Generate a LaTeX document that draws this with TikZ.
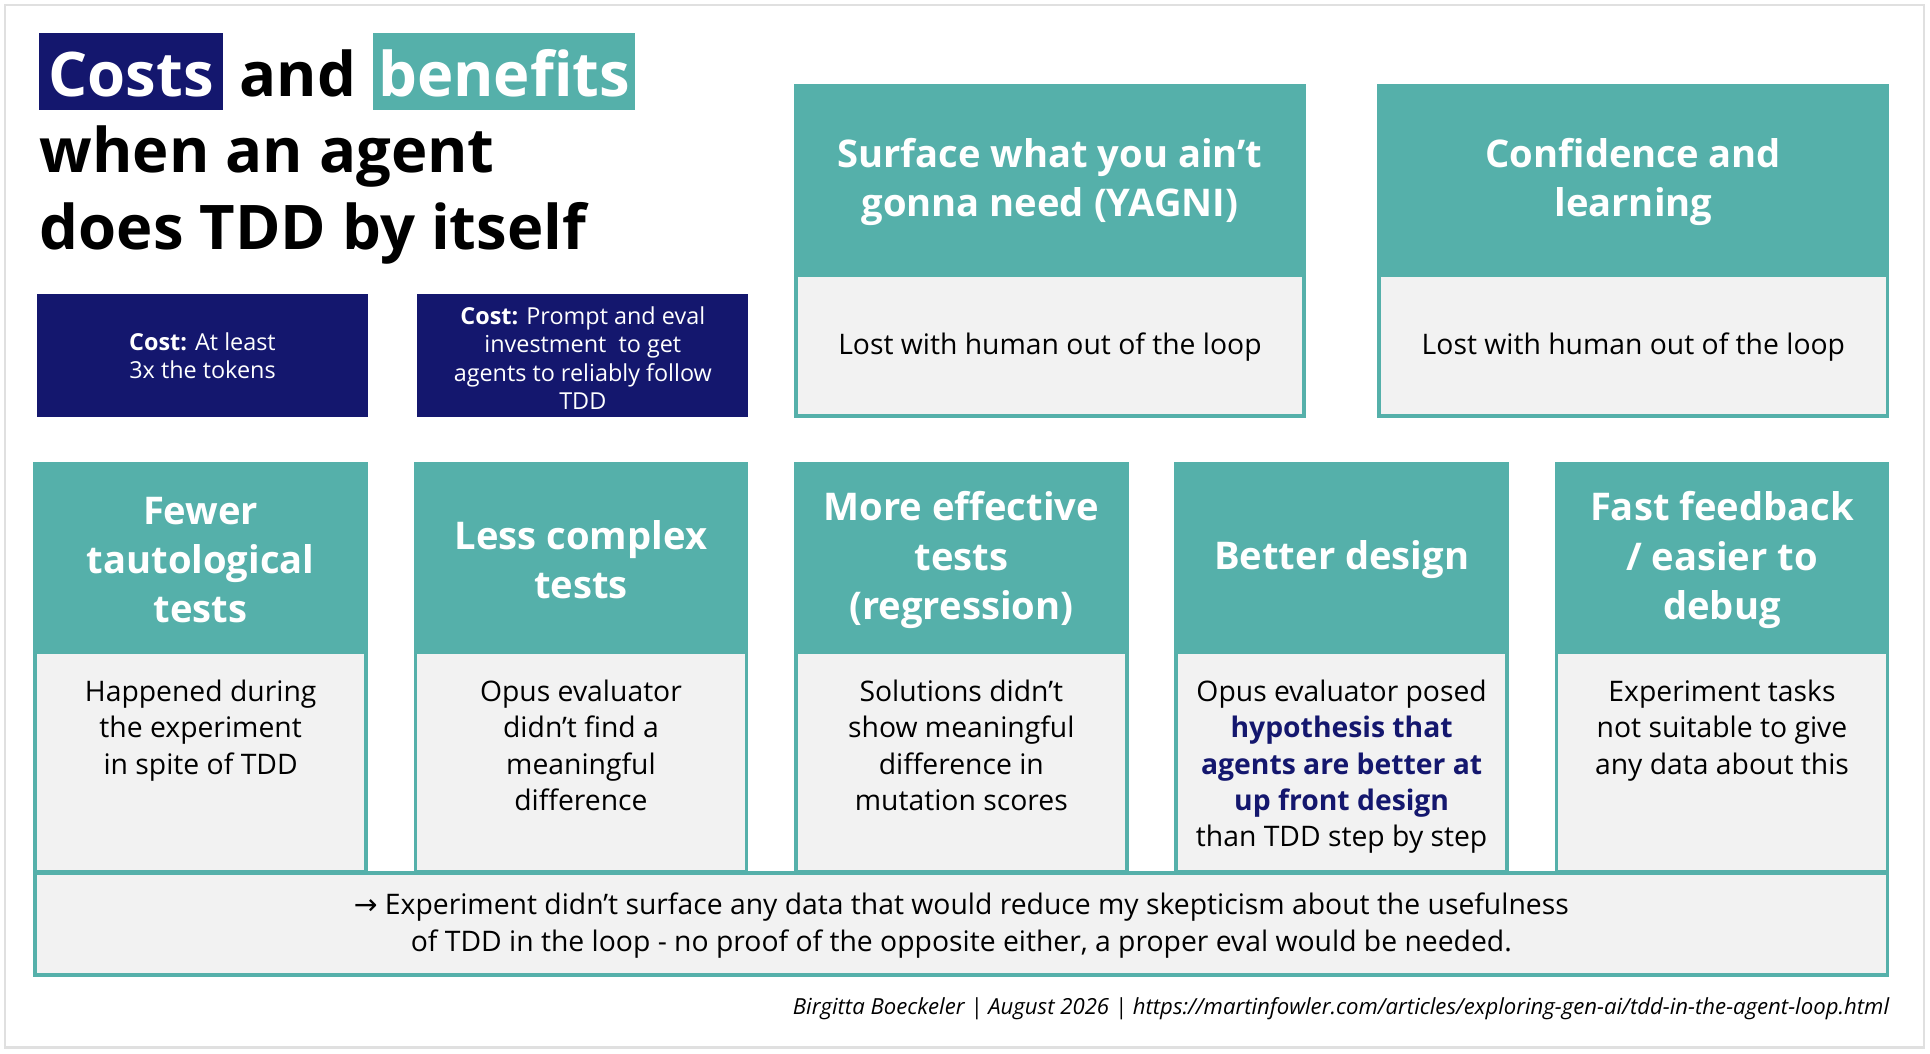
\documentclass[tikz,border=0pt]{standalone}
\usepackage{fontspec}
\setmainfont{Open Sans}
\newfontfamily\arrowfont{DejaVu Sans}
\definecolor{teal}{HTML}{55B0AA}
\definecolor{navy}{HTML}{14176E}
\definecolor{bodyg}{HTML}{F2F2F2}
\begin{document}
\begin{tikzpicture}[x=1pt,y=-1pt,
 hd/.style={text=white,font=\fontsize{31}{40}\selectfont\bfseries,align=center},
 bd/.style={font=\fontsize{23}{29.5}\selectfont,align=center,anchor=north},
 ttl/.style={font=\fontsize{50}{60}\selectfont\bfseries,inner sep=0,anchor=base west},
 cost/.style={text=white,font=\fontsize{19}{23}\selectfont,align=center}]
\useasboundingbox (0,0) rectangle (1568,856);
\draw[black!12,line width=2] (4,4) rectangle (1563,851);
% title
\fill[navy] (32,27) rectangle (181,89);
\fill[teal] (303,27) rectangle (516,89);
\node[ttl,text=white,anchor=base] (t1a) at (106.5,78) {Costs};
\node[ttl,anchor=base] (t1b) at (242,78) {and};
\node[ttl,text=white,anchor=base] (t1c) at (409.5,78) {benefits};
\node[ttl] (t2) at (32,140) {when an agent};
\node[ttl] (t3) at (32,203) {does TDD by itself};
% cost boxes
\fill[navy] (30,239) rectangle (299,339);
\node[cost] (c1) at (164.5,289) {\textbf{Cost:} At least\\3x the tokens};
\fill[navy] (339,239) rectangle (608,339);
\node[cost] (c2) at (473.5,291) {\textbf{Cost:} Prompt and eval\\investment\ \ to get\\agents to reliably follow\\TDD};
% top cards
\foreach \xa/\xb/\nm in {645/1061/A,1119/1535/B}{
 \fill[teal] (\xa,68) rectangle (\xb,225);
 \filldraw[fill=bodyg,draw=teal,line width=3] (\xa+1.5,225) -- (\xa+1.5,338) -- (\xb-1.5,338) -- (\xb-1.5,225);
}
\node[hd] (hA) at (853,148) {Surface what you ain’t\\gonna need (YAGNI)};
\node[bd,anchor=center] (bA) at (853,282) {Lost with human out of the loop};
\node[hd] (hB) at (1327,148) {Confidence and\\learning};
\node[bd,anchor=center] (bB) at (1327,282) {Lost with human out of the loop};
% bottom cards
\foreach \xa/\xb in {27/299,336/608,645/917,954/1226,1263/1535}{
 \fill[teal] (\xa,375) rectangle (\xb,531);
 \filldraw[fill=bodyg,draw=teal,line width=3] (\xa+1.5,531) -- (\xa+1.5,708) -- (\xb-1.5,708) -- (\xb-1.5,531);
}
\node[hd] (h1) at (163,455) {Fewer\\tautological\\tests};
\node[hd] (h2) at (472,455) {Less complex\\tests};
\node[hd] (h3) at (781,455) {More effective\\tests\\(regression)};
\node[hd] (h4) at (1090,455) {Better design};
\node[hd] (h5) at (1399,455) {Fast feedback\\/ easier to\\debug};
\node[bd] (b1) at (163,549) {Happened during\\the experiment\\in spite of TDD};
\node[bd] (b2) at (472,549) {Opus evaluator\\didn’t find a\\meaningful\\difference};
\node[bd] (b3) at (781,549) {Solutions didn’t\\show meaningful\\difference in\\mutation scores};
\node[bd] (b4) at (1090,549) {Opus evaluator posed\\\textcolor{navy}{\textbf{hypothesis that}}\\\textcolor{navy}{\textbf{agents are better at}}\\\textcolor{navy}{\textbf{up front design}}\\than TDD step by step};
\node[bd] (b5) at (1399,549) {Experiment tasks\\not suitable to give\\any data about this};
% summary
\filldraw[fill=bodyg,draw=teal,line width=3] (28.5,709) rectangle (1533.5,792);
\node[font=\fontsize{23}{29.5}\selectfont,align=center] (s) at (781,752) {{\arrowfont →} Experiment didn’t surface any data that would reduce my skepticism about the usefulness\\of TDD in the loop - no proof of the opposite either, a proper eval would be needed.};
\node[anchor=base east,font=\fontsize{18}{20}\selectfont\itshape,inner sep=0] (f) at (1535,824) {Birgitta Boeckeler | August 2026 | https://martinfowler.com/articles/exploring-gen-ai/tdd-in-the-agent-loop.html};
\end{tikzpicture}
\end{document}
